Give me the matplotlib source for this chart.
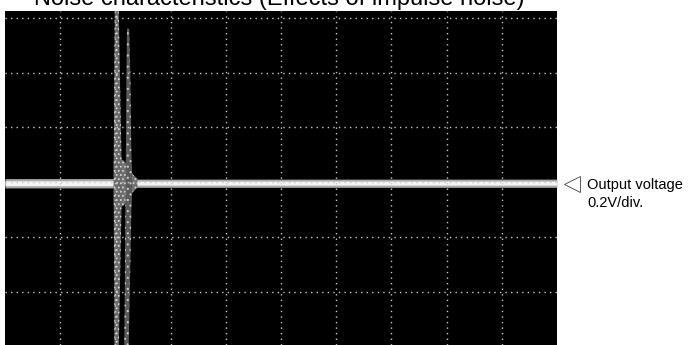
import matplotlib
matplotlib.use("Agg")
from matplotlib import pyplot as plt

plt.rcParams['font.family'] = ['Liberation Sans', 'DejaVu Sans']

# Screen in divisions (10 x ~6.1 visible), trace centred on 0
x_grid = [1, 2, 3, 4, 5, 6, 7, 8, 9]
y_grid = [-2, -1, 0, 1, 2, 3]

# Baseline trace band (outer glow / bright core), divisions
base_x = [0, 1.99, 2.39, 10]
base_lo = [-0.10, -0.10, -0.09, -0.09]
base_hi = [0.07, 0.07, 0.06, 0.06]
core_lo = [-0.06, -0.06, -0.05, -0.05]
core_hi = [0.03, 0.03, 0.025, 0.025]

# Impulse burst: first streak (full height)
s1_y = [-3.1, -2.0, -0.5, 0.0, 0.5, 2.0, 3.2]
s1_left = [1.98, 1.98, 1.97, 1.97, 1.97, 1.98, 1.99]
s1_right = [2.06, 2.08, 2.11, 2.12, 2.11, 2.08, 2.06]

# second streak (starts below top)
s2_y = [-3.0, -2.0, -0.5, 0.0, 0.5, 2.0, 2.8]
s2_left = [2.16, 2.17, 2.18, 2.19, 2.19, 2.20, 2.21]
s2_right = [2.24, 2.26, 2.29, 2.31, 2.29, 2.27, 2.25]

# central ringing blob
blob_x = [1.97, 2.05, 2.15, 2.25, 2.32, 2.40]
blob_lo = [-0.42, -0.48, -0.42, -0.30, -0.17, -0.10]
blob_hi = [0.40, 0.45, 0.40, 0.28, 0.14, 0.07]

fig = plt.figure(figsize=(6.9, 3.45), dpi=100)
ax = fig.add_axes([5 / 690, 0, 552 / 690, 334.5 / 345])
ax.set_facecolor('black')
ax.set_xlim(0, 10)
ax.set_ylim(-2.96, 3.13)

# Graticule
for gx in x_grid:
    ax.axvline(gx, color='#c8c8c8', linewidth=1, linestyle=(0, (1, 3)))
for gy in y_grid:
    ax.axhline(gy, color='#c8c8c8', linewidth=1, linestyle=(0, (1, 3)))

# Trace
plt.rcParams['hatch.color'] = '#d8d8d8'
plt.rcParams['hatch.linewidth'] = 0.8
ax.fill_between(base_x, base_lo, base_hi, color='#a8a8a8', linewidth=0)
ax.fill_between(base_x, core_lo, core_hi, color='#f4f4f4', linewidth=0)
ax.fill_between(blob_x, blob_lo, blob_hi, facecolor='#707070', hatch='....',
                edgecolor='#d0d0d0', linewidth=0)
ax.fill_betweenx(s1_y, s1_left, s1_right, facecolor='#6a6a6a', hatch='....',
                 edgecolor='#d8d8d8', linewidth=0)
ax.fill_betweenx(s2_y, s2_left, s2_right, facecolor='#5a5a5a', hatch='...',
                 edgecolor='#c8c8c8', linewidth=0)

ax.set_xticks([])
ax.set_yticks([])
for sp in ax.spines.values():
    sp.set_visible(False)

# Title (top part cut off by the frame, as in the reference)
fig.text(279 / 690, 1 - 5 / 345, "Noise characteristics (Effects of impulse noise)",
         ha='center', va='baseline', fontsize=17, color='black')

# Channel marker and label
ax.plot([10.27], [-0.03], marker='<', markersize=11, markerfacecolor='white',
        markeredgecolor='#404040', markeredgewidth=0.6, clip_on=False)
fig.text(587 / 690, 1 - 189 / 345, "Output voltage", ha='left',
         va='baseline', fontsize=10.5, color='black')
fig.text(587 / 690, 1 - 207 / 345, "0.2V/div.", ha='left',
         va='baseline', fontsize=10.5, color='black')

fig.savefig("out.png", dpi=100)
